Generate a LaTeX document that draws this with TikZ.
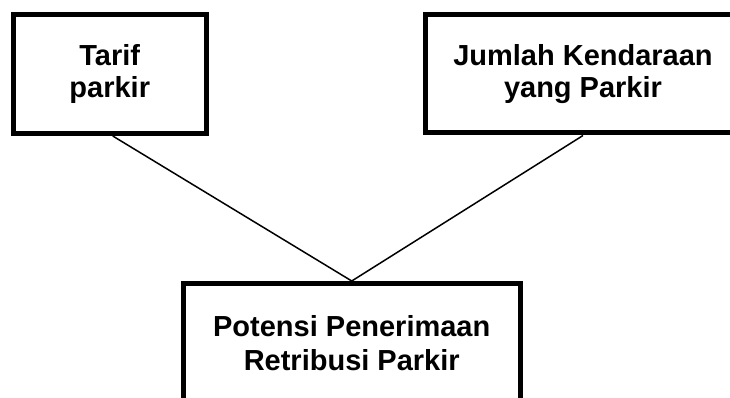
\documentclass[tikz,border=0pt]{standalone}
\usepackage{fontspec}
\setmainfont{Liberation Sans}
\usetikzlibrary{calc}
\begin{document}
\begin{tikzpicture}[x=1pt,y=-1pt,
  factorbox/.style={draw=black, line width=5pt, rectangle, inner sep=0pt,
    align=center, font=\fontsize{29}{32}\selectfont\bfseries},
  link/.style={draw=black, line width=1.5pt}]
  \useasboundingbox (0,0) rectangle (730,398);
  \clip (0,0) rectangle (730,398);
  % input factors
  \node[factorbox, minimum width=193.5pt, minimum height=119pt]
    (tarif) at (109.75,74) {Tarif\\parkir};
  \node[factorbox, minimum width=315pt, minimum height=118.5pt]
    (jumlah) at (583,73.75) {Jumlah Kendaraan\\yang Parkir};
  % outcome
  \node[factorbox, minimum width=336.5pt, minimum height=120pt,
    font=\fontsize{29}{34}\selectfont\bfseries]
    (potensi) at (351.75,343.5) {Potensi Penerimaan\\Retribusi Parkir};
  % connectors
  \draw[link] ($(tarif.south)+(3,0)$) -- (potensi.north);
  \draw[link] (jumlah.south) -- (potensi.north);
\end{tikzpicture}
\end{document}
